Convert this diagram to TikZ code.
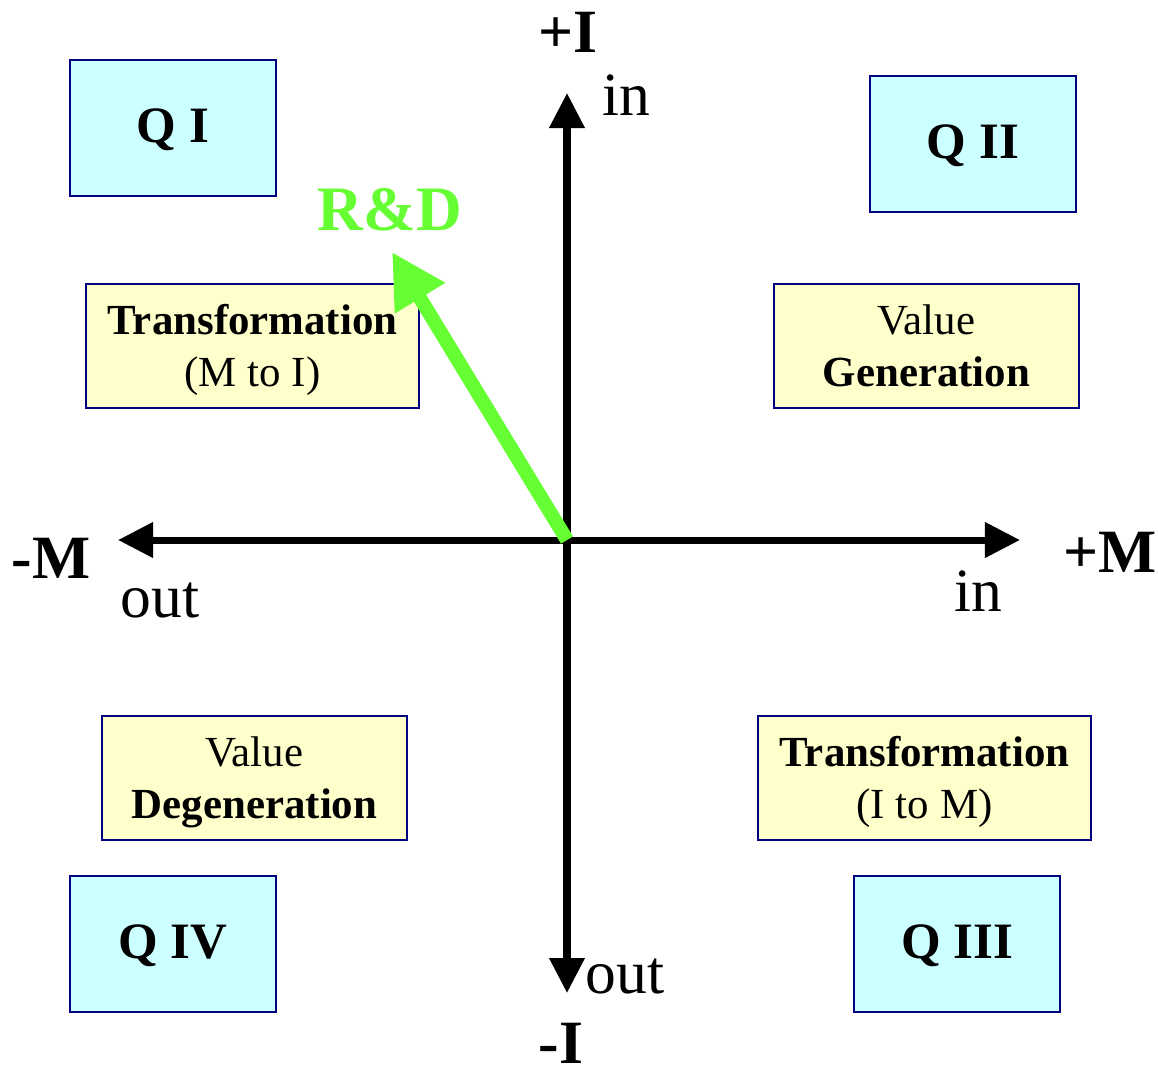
\documentclass[tikz,border=0pt]{standalone}
\usepackage{fontspec}
\setmainfont{Liberation Serif}
\usepackage{tikz}
\usetikzlibrary{arrows.meta, positioning}
\definecolor{quadcyan}{HTML}{CCFFFF}
\definecolor{noteyellow}{HTML}{FFFFCC}
\definecolor{boxblue}{HTML}{000080}
\definecolor{rdgreen}{HTML}{66FF33}
\newcommand{\boxlines}[1]{\raisebox{-0.04cm}[\height][\depth]{\begin{tabular}{@{}c@{}}#1\end{tabular}}}
\tikzset{
  quadbox/.style={rectangle, minimum width=2.06cm, minimum height=1.36cm, inner sep=0pt, text height=9.6pt, text depth=1.2pt, text centered, draw=boxblue, line width=0.7pt, fill=quadcyan, font=\fontsize{14.5}{17}\selectfont\bfseries},
  notebox/.style={rectangle, minimum height=1.24cm, inner sep=0pt, text centered, draw=boxblue, line width=0.7pt, fill=noteyellow, font=\fontsize{12.2}{14.8}\selectfont},
  axislabel/.style={anchor=base, inner sep=0pt, font=\fontsize{17.5}{20}\selectfont},
  axisname/.style={anchor=base, inner sep=0pt, font=\fontsize{17.5}{20}\selectfont\bfseries},
  axis/.style={line width=2pt, -{Triangle[length=0.35cm, width=0.34cm]}},
  rdarrow/.style={draw=rdgreen, line width=4pt, -{Triangle[length=0.54cm, width=0.55cm]}}
}

\begin{document}
\begin{tikzpicture}[x=0.01cm, y=-0.01cm]
    \useasboundingbox (0,0) rectangle (1158,1075);

    % Origen y extremos de los ejes
    \coordinate (o) at (567,540);
    \coordinate (itop) at (567,93);
    \coordinate (ibot) at (567,993);
    \coordinate (mleft) at (118,540);
    \coordinate (mright) at (1020,540);

    % Ejes I (vertical) y M (horizontal)
    \draw[axis] (o) -- (itop);
    \draw[axis] (o) -- (ibot);
    \draw[axis] (o) -- (mleft);
    \draw[axis] (o) -- (mright);

    % Nombres de los ejes y sentidos
    \node[axisname] (plusi) at (568,52) {+I};
    \node[axislabel] (intop) at (626,115) {in};
    \node[axisname] (minusm) at (51,578) {-M};
    \node[axislabel] (outleft) at (160,617) {out};
    \node[axisname] (plusm) at (1110,572) {+M};
    \node[axislabel] (inright) at (978,611) {in};
    \node[axislabel] (outbot) at (625,993) {out};
    \node[axisname] (minusi) at (561,1063) {-I};

    % Cuadrantes
    \node[quadbox] (q1) at (173,128) {Q I};
    \node[quadbox] (q2) at (973,144) {Q II};
    \node[quadbox] (q4) at (173,944) {Q IV};
    \node[quadbox] (q3) at (957,944) {Q III};

    % Cajas de texto de cada cuadrante
    \node[notebox, minimum width=3.33cm] (tmi) at (252.5,346) {\boxlines{\textbf{Transformation}\\(M to I)}};
    \node[notebox, minimum width=3.05cm] (vgen) at (926.5,346) {\boxlines{Value\\\textbf{Generation}}};
    \node[notebox, minimum width=3.05cm] (vdeg) at (254.5,778) {\boxlines{Value\\\textbf{Degeneration}}};
    \node[notebox, minimum width=3.33cm] (tim) at (924.5,778) {\boxlines{\textbf{Transformation}\\(I to M)}};

    % Flecha de I+D
    \node[anchor=base, inner sep=0pt, text=rdgreen, font=\fontsize{18}{20}\selectfont\bfseries] (rd) at (390,230) {R\&D};
    \coordinate (rdtip) at (392,252);
    \draw[rdarrow] (o) -- (rdtip);
\end{tikzpicture}
\end{document}
